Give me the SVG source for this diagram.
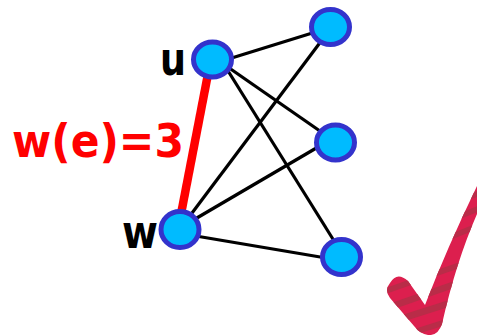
<svg xmlns="http://www.w3.org/2000/svg" width="477" height="335" viewBox="0 0 477 335">
<style>
.node{fill:#00BBFF;stroke:#3333CC;stroke-width:5}
.edge{stroke:#000;stroke-width:3.2;fill:none}
.lbl{font-family:"DejaVu Sans","Liberation Sans",sans-serif;font-weight:bold;font-size:46px}
</style>
<defs>
<clipPath id="chk">
<path d="M390 283 Q397 271 408 281 L425 305 Q447 248 477 186 L477 214 Q456 262 442 324 Q438 336 428 335 Q420 334 414 326 L390 298 Q384 290 390 283 Z"/>
</clipPath>
</defs>
<rect width="477" height="335" fill="#fff"/>
<g id="connectors">
<line class="edge" x1="222" y1="61" x2="322" y2="30"/>
<line class="edge" x1="222" y1="63" x2="330" y2="138"/>
<line class="edge" x1="220" y1="58" x2="336" y2="244"/>
<line class="edge" x1="186" y1="221" x2="325" y2="36"/>
<line class="edge" x1="190" y1="222" x2="330" y2="140"/>
<line class="edge" x1="190" y1="235" x2="332" y2="259"/>
<line x1="208" y1="74" x2="181" y2="214" stroke="#FF0000" stroke-width="8.5"/>
</g>
<g id="node-u"><ellipse class="node" cx="212.5" cy="59.5" rx="19" ry="17.5"/><text class="lbl" x="160" y="75" textLength="26" lengthAdjust="spacingAndGlyphs">u</text></g>
<g id="node-w"><ellipse class="node" cx="180" cy="229.5" rx="19" ry="18"/><text class="lbl" x="122" y="248" textLength="36" lengthAdjust="spacingAndGlyphs">w</text></g>
<g id="node-r1"><ellipse class="node" cx="330.5" cy="27" rx="19" ry="17.5"/></g>
<g id="node-r2"><ellipse class="node" cx="335.5" cy="142.5" rx="19" ry="17.5"/></g>
<g id="node-r3"><ellipse class="node" cx="341.5" cy="257" rx="19" ry="17.5"/></g>
<g id="weight"><text class="lbl" x="12" y="157" fill="#FF0000" textLength="172" lengthAdjust="spacingAndGlyphs">w(e)=3</text></g>
<g id="checkmark">
<path d="M390 283 Q397 271 408 281 L425 305 Q447 248 477 186 L477 214 Q456 262 442 324 Q438 336 428 335 Q420 334 414 326 L390 298 Q384 290 390 283 Z" fill="#DC1F4E"/>
<g clip-path="url(#chk)" fill="#B92C48">
<path d="M380 290 L480 255 L480 261 L380 296 Z"/>
<path d="M380 307 L480 272 L480 279 L380 314 Z"/>
<path d="M380 322 L480 290 L480 297 L380 329 Z"/>
<path d="M380 340 L480 308 L480 314 L380 346 Z"/>
<path d="M380 262 L480 222 L480 228 L380 268 Z"/>
<path d="M380 245 L480 205 L480 211 L380 251 Z"/>
<path d="M380 226 L480 190 L480 196 L380 232 Z"/>
</g>
</g>
</svg>
